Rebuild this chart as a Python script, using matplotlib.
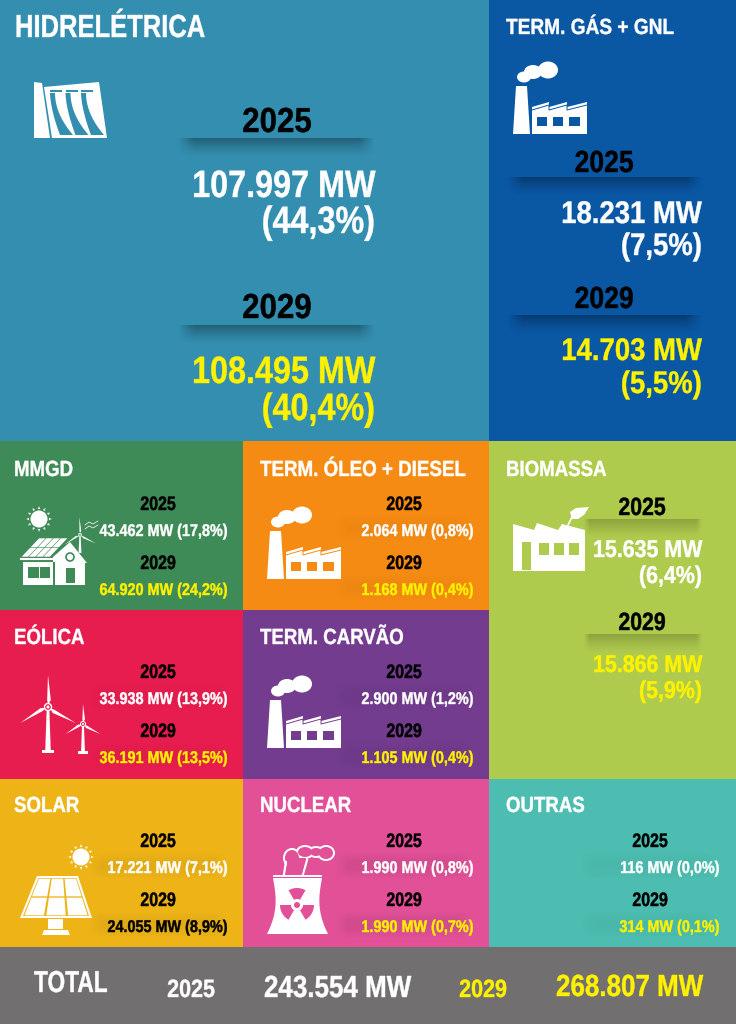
import numpy as np
import matplotlib
matplotlib.use('Agg')
from matplotlib import pyplot as plt
from matplotlib.patches import Rectangle, Polygon, Circle, Ellipse
from matplotlib.patheffects import AbstractPathEffect
from matplotlib.text import Text
from matplotlib.transforms import Affine2D, Bbox

# sources and capacity, 2025 and 2029
names = ['HIDRELÉTRICA', 'TERM. GÁS + GNL', 'MMGD', 'TERM. ÓLEO + DIESEL', 'BIOMASSA',
         'EÓLICA', 'TERM. CARVÃO', 'SOLAR', 'NUCLEAR', 'OUTRAS']
mw_2025 = ['107.997', '18.231', '43.462', '2.064', '15.635', '33.938', '2.900', '17.221', '1.990', '116']
pct_2025 = ['44,3', '7,5', '17,8', '0,8', '6,4', '13,9', '1,2', '7,1', '0,8', '0,0']
mw_2029 = ['108.495', '14.703', '64.920', '1.168', '15.866', '36.191', '1.105', '24.055', '1.990', '314']
pct_2029 = ['40,4', '5,5', '24,2', '0,4', '5,9', '13,5', '0,4', '8,9', '0,7', '0,1']
total_2025 = '243.554'
total_2029 = '268.807'

colors = ['#338EAF', '#0A57A4', '#3F8B58', '#F58B13', '#AFCB4E',
          '#E71D4F', '#743C8F', '#EEB417', '#E25198', '#4CBDB0']
cells = [(0, 0, 489, 441), (489, 0, 247, 441), (0, 441, 243, 169), (243, 441, 246, 169), (489, 441, 247, 338),
         (0, 610, 243, 169), (243, 610, 246, 169), (0, 779, 243, 168), (243, 779, 246, 168), (489, 779, 247, 168)]

FONT = 'Liberation Sans'
YELLOW = '#FFF200'

fig = plt.figure(figsize=(7.36, 10.24), dpi=100)
ax = fig.add_axes([0, 0, 1, 1])
ax.set_xlim(0, 736)
ax.set_ylim(1024, 0)
ax.axis('off')


class Squeeze(AbstractPathEffect):
    # no condensed font here, so narrow the glyphs around the anchor
    def __init__(self, x0, f):
        super().__init__()
        self.x0, self.f = x0, f

    def draw_path(self, renderer, gc, tpath, affine, rgbFace=None):
        t = affine + Affine2D().translate(-self.x0, 0).scale(self.f, 1).translate(self.x0, 0)
        # thin outline, the reference type is heavier
        gc.set_linewidth(0.3)
        gc.set_foreground(rgbFace)
        renderer.draw_path(gc, tpath, t, rgbFace)


class NarrowText(Text):
    def __init__(self, x, y, s, f, **kw):
        super().__init__(x, y, s, **kw)
        self.narrow = f
        self.set_path_effects([Squeeze(x, f)])

    def get_window_extent(self, renderer=None, dpi=None):
        bb = super().get_window_extent(renderer, dpi)
        x0 = self.get_position()[0]
        return Bbox([[x0 + (bb.x0 - x0) * self.narrow, bb.y0], [x0 + (bb.x1 - x0) * self.narrow, bb.y1]])


def txt(x, y, s, size, color='white', ha='left', f=0.85):
    t = NarrowText(x, y, s, f, fontsize=size, color=color, ha=ha, va='baseline', family=FONT, weight='bold', zorder=6)
    ax.add_artist(t)


def shade(x0, x1, y0, y1, alpha, side=0.08, soft=False):
    # dark band under the year labels, fades downwards and to the sides
    w = np.linspace(0, 1, 80)
    h = np.linspace(0, 1, 30)
    edge = np.clip(np.minimum(w, 1 - w) / side, 0, 1)
    fall = np.sin(np.pi * h) if soft else (1 - h) ** 1.3
    img = np.zeros((30, 80, 4))
    img[..., 3] = np.outer(fall, edge) * alpha
    ax.imshow(img, extent=(x0, x1, y1, y0), aspect='auto', zorder=2, interpolation='bilinear')


def poly(pts, color='white', z=3):
    ax.add_patch(Polygon(pts, closed=True, fc=color, lw=0, zorder=z))


def factory(x, y, bg):
    # x, y is the lower left corner of the chimney
    poly([(x, y), (x + 3, y - 48), (x + 14, y - 48), (x + 17, y)])
    poly([(x + 19, y), (x + 19, y - 27), (x + 36, y - 32), (x + 36, y - 27), (x + 54, y - 32), (x + 54, y - 27),
          (x + 74, y - 32), (x + 74, y)])
    ax.plot([x + 19, x + 36, x + 36, x + 54, x + 54, x + 74], [y - 24, y - 29, y - 24, y - 29, y - 24, y - 29],
            color=bg, lw=0.7, zorder=4)
    for wx0, wx1 in ((24, 34), (40, 50), (56, 67)):
        ax.add_patch(Rectangle((x + wx0, y - 17), wx1 - wx0, 9, fc=bg, lw=0, zorder=4))
    for cx, cy, rx, ry in ((11, -57, 7, 5.5), (20, -62, 9, 7), (35, -64, 10, 8.5)):
        ax.add_patch(Ellipse((x + cx, y + cy), 2 * rx, 2 * ry, fc='white', lw=0, zorder=3))


def sun(x, y, r):
    ax.add_patch(Circle((x, y), r, fc='white', lw=0, zorder=3))
    for a in np.radians(np.arange(0, 360, 30)):
        poly([(x + 1.18 * r * np.cos(a - 0.12), y + 1.18 * r * np.sin(a - 0.12)),
              (x + 1.18 * r * np.cos(a + 0.12), y + 1.18 * r * np.sin(a + 0.12)),
              (x + 1.5 * r * np.cos(a), y + 1.5 * r * np.sin(a))])


def turbine(x, base, hub, blade, w, bg, foot=True, start=90):
    poly([(x - w, base), (x - w * 0.45, hub), (x + w * 0.45, hub), (x + w, base)])
    if foot:
        ax.add_patch(Rectangle((x - 2.3 * w, base - 2), 4.6 * w, 3, fc='white', lw=0, zorder=3))
    for a in np.radians([start, start + 120, start + 240]):
        ux, uy = np.cos(a), -np.sin(a)
        nx, ny = -uy, ux
        poly([(x + ux * 2, hub + uy * 2), (x + ux * blade * 0.22 + nx * w, hub + uy * blade * 0.22 + ny * w),
              (x + ux * blade, hub + uy * blade), (x + ux * blade * 0.22 - nx * w * 0.3, hub + uy * blade * 0.22 - ny * w * 0.3)])
    ax.add_patch(Circle((x, hub), w * 1.5, fc='white', lw=0, zorder=4))
    ax.add_patch(Circle((x, hub), w * 1.0, fc=bg, lw=0, zorder=4))
    ax.add_patch(Circle((x, hub), w * 0.55, fc='white', lw=0, zorder=4))


def panel(tl, tr, br, bl, nx, ny, bg, gap):
    # white cells in a sloped frame
    tl, tr, br, bl = map(np.array, (tl, tr, br, bl))

    def at(u, v):
        return tl * (1 - u) * (1 - v) + tr * u * (1 - v) + br * u * v + bl * (1 - u) * v

    poly([tl, tr, br, bl], bg, 4)
    for i in range(nx):
        for j in range(ny):
            gu, gv = gap / np.linalg.norm(tr - tl), gap / np.linalg.norm(bl - tl)
            u0, u1 = i / nx + gu, (i + 1) / nx - gu
            v0, v1 = j / ny + gv, (j + 1) / ny - gv
            poly([at(u0, v0), at(u1, v0), at(u1, v1), at(u0, v1)], 'white', 5)


# cell backgrounds
for (x, y, w, h), c in zip(cells, colors):
    ax.add_patch(Rectangle((x, y), w, h, fc=c, lw=0, zorder=1))
ax.add_patch(Rectangle((0, 947), 736, 77, fc='#716F70', lw=0, zorder=1))

# titles
title_sizes = [23, 15.8, 15.8, 15.8, 15.8, 15.8, 15.8, 15.8, 15.8, 15.8]
title_pos = [(15, 37), (506, 34), (14, 476), (260, 476), (506, 476), (14, 644), (260, 644), (14, 812), (260, 812), (506, 812)]
title_f = [0.80, 0.87, 0.85, 0.855, 0.85, 0.85, 0.85, 0.85, 0.85, 0.85]
for n, (x, y), fs, fx in zip(names, title_pos, title_sizes, title_f):
    txt(x, y, n, fs, f=fx)

# hidreletrica
shade(177, 376, 138, 157, 0.32)
shade(177, 376, 325, 344, 0.32)
txt(277, 132, '2025', 25, 'black', 'center', 0.9)
txt(277, 318, '2029', 25, 'black', 'center', 0.9)
txt(375, 197, mw_2025[0] + ' MW', 27.4, 'white', 'right')
txt(375, 233, '(' + pct_2025[0] + '%)', 27.4, 'white', 'right')
txt(375, 383, mw_2029[0] + ' MW', 27.4, YELLOW, 'right')
txt(375, 420, '(' + pct_2029[0] + '%)', 27.4, YELLOW, 'right')

# gas
shade(506, 703, 177, 196, 0.32)
shade(506, 703, 315, 334, 0.32)
txt(604, 172, '2025', 22, 'black', 'center', 0.87)
txt(604, 308, '2029', 22, 'black', 'center', 0.87)
txt(702, 223, mw_2025[1] + ' MW', 22.5, 'white', 'right', 0.88)
txt(702, 255, '(' + pct_2025[1] + '%)', 22.5, 'white', 'right', 0.88)
txt(702, 360, mw_2029[1] + ' MW', 22.5, YELLOW, 'right', 0.88)
txt(702, 393, '(' + pct_2029[1] + '%)', 22.5, YELLOW, 'right', 0.88)

# biomassa
shade(583, 703, 519, 539, 0.2, 0.05)
shade(583, 703, 634, 654, 0.2, 0.05)
txt(642, 515, '2025', 18, 'black', 'center')
txt(642, 630, '2029', 18, 'black', 'center')
txt(702, 557, mw_2025[4] + ' MW', 17.5, 'white', 'right', 0.88)
txt(702, 583, '(' + pct_2025[4] + '%)', 17.5, 'white', 'right', 0.88)
txt(702, 672, mw_2029[4] + ' MW', 17.5, YELLOW, 'right', 0.88)
txt(702, 698, '(' + pct_2029[4] + '%)', 17.5, YELLOW, 'right', 0.88)

# small cells: index, right edge of value, centre of year, baselines
small = [(2, 227, 158, 510), (3, 473, 404, 510), (5, 227, 158, 678), (6, 473, 404, 678),
         (7, 227, 158, 847), (8, 473, 404, 847), (9, 719, 650, 847)]
band = {2: 0.0, 3: 0.03, 5: 0.03, 6: 0.05, 7: 0.05, 8: 0.07, 9: 0.03}
for i, xr, xc, y in small:
    col29 = 'black' if i == 7 else YELLOW
    if band[i]:
        shade(xr - 140, xr + 1, y + 4, y + 33, band[i], 0.1, True)
        shade(xr - 140, xr + 1, y + 63, y + 92, band[i], 0.1, True)
    txt(xc, y, '2025', 14, 'black', 'center', 0.82)
    txt(xc, y + 59, '2029', 14, 'black', 'center', 0.82)
    txt(xr, y + 26, f'{mw_2025[i]} MW ({pct_2025[i]}%)', 12.2, 'white', 'right')
    txt(xr, y + 85, f'{mw_2029[i]} MW ({pct_2029[i]}%)', 12.2, col29, 'right')

# total
txt(34, 992, 'TOTAL', 21.8, 'white', f=0.75)
txt(191, 997, '2025', 18, 'white', 'center', 0.86)
txt(264, 997, total_2025 + ' MW', 22, 'white')
txt(483, 997, '2029', 18, YELLOW, 'center', 0.86)
txt(556, 996, total_2029 + ' MW', 22, YELLOW)

# icons
# dam
poly([(34, 82), (42, 83), (50, 138), (34, 138)])
poly([(44, 87), (99, 82), (107, 138), (52, 138)])
t = np.linspace(0, 1, 12)
for x0 in (50, 65.5, 81):
    left = np.column_stack([x0 + 10 * t ** 1.6, 93 + 42 * t])
    right = np.column_stack([x0 + 5 + 18 * t ** 2, 93 + 42 * t])
    poly(np.vstack([left, right[::-1]]), colors[0], 4)
    ax.add_patch(Rectangle((x0, 89.5), 12, 2.5, fc=colors[0], lw=0, zorder=4))

factory(513, 134, colors[1])
factory(267, 579, colors[3])
factory(267, 748, colors[6])

# biomassa factory with leaf
poly([(513, 524), (534, 530), (537, 523), (558, 530), (562, 524), (585, 530), (585, 571), (513, 571)])
ax.add_patch(Rectangle((522, 542), 9, 28, fc=colors[4], lw=0, zorder=4))
for wx in (539, 554, 569):
    ax.add_patch(Rectangle((wx, 543), 9.5, 12, fc=colors[4], lw=0, zorder=4))
poly([(572, 519), (570, 512), (576, 508), (589, 507), (584, 515), (578, 519)])
ax.plot([572, 568], [517, 525], color='white', lw=1.2, zorder=3)

# mmgd house
sun(39, 519, 8.5)
poly([(23, 562), (53, 562), (53, 557), (70, 542), (87, 563), (85, 563), (85, 585), (23, 585)])
panel((39, 538), (68, 538), (50, 557), (21, 557), 4, 2, colors[2], 0.4)
ax.plot([21, 53], [559, 559], color='white', lw=1.5, zorder=3)
ax.add_patch(Rectangle((53, 562), 1.5, 23, fc=colors[2], lw=0, zorder=4))
ax.add_patch(Rectangle((28, 567), 22, 11, fc=colors[2], lw=0, zorder=4))
ax.add_patch(Rectangle((38.5, 567), 1.5, 11, fc='white', lw=0, zorder=5))
ax.add_patch(Rectangle((66, 568), 8.5, 15, fc=colors[2], lw=0, zorder=4))
ax.add_patch(Circle((70, 557), 4, fc='white', ec=colors[2], lw=1.2, zorder=4))
turbine(80, 553, 535, 18, 1.4, colors[2], False, 92)
for dy in (0, 4):
    ax.plot([85, 89, 93, 98], [525 + dy, 522 + dy, 524 + dy, 521 + dy], color='white', lw=0.5, zorder=3)

# wind
turbine(48, 752, 707, 32, 2.8, colors[5])
turbine(83, 753, 724, 20, 2.0, colors[5])

# solar
sun(81, 857, 8.5)
poly([(37, 876), (78, 876), (92, 918), (20, 918)])
panel((38.5, 878), (76.5, 878), (89, 916), (23, 916), 3, 2, colors[7], 0.7)
ax.add_patch(Rectangle((48, 919), 15, 10, fc='white', lw=0, zorder=3))
poly([(42, 935), (44, 930), (68, 930), (70, 935)])

# nuclear
s = np.linspace(0, 1, 14)
edge_l = 273 + 4 * np.sin(np.pi * s) * 0.8 - 6 * s ** 3
edge_r = 322 - 4 * np.sin(np.pi * s) * 0.8 + 6 * s ** 3
ys = 878 + 56 * s
poly(np.vstack([np.column_stack([edge_l, ys]), np.column_stack([edge_r, ys])[::-1]]))
ax.add_patch(Rectangle((273, 875), 49, 2, fc='white', lw=0, zorder=3))
ax.add_patch(Circle((297, 905), 3, fc=colors[8], lw=0, zorder=4))
for a in (90, 210, 330):
    v = np.radians(np.linspace(a - 30, a + 30, 10))
    pts = [(297 + 6 * np.cos(q), 905 - 6 * np.sin(q)) for q in v] + [(297 + 17 * np.cos(q), 905 - 17 * np.sin(q)) for q in v[::-1]]
    poly(pts, colors[8], 4)
lobes = [(292, 858, 9, 10), (305, 852, 9, 7), (316, 852, 8, 6), (326, 853, 9, 8)]
for cx, cy, rx, ry in lobes:
    ax.add_patch(Ellipse((cx, cy), 2 * rx, 2 * ry, fc='white', lw=0, zorder=3))
for cx, cy, rx, ry in lobes:
    ax.add_patch(Ellipse((cx, cy), 2 * rx - 4, 2 * ry - 4, fc=colors[8], lw=0, zorder=3))
ax.plot([284, 286], [874, 862], color='white', lw=1.6, zorder=3)
ax.plot([303, 307], [874, 860], color='white', lw=1.6, zorder=3)
poly([(286, 874), (287.5, 858), (306, 858), (302, 874)], colors[8], 3)

fig.savefig('out.png', dpi=100)
